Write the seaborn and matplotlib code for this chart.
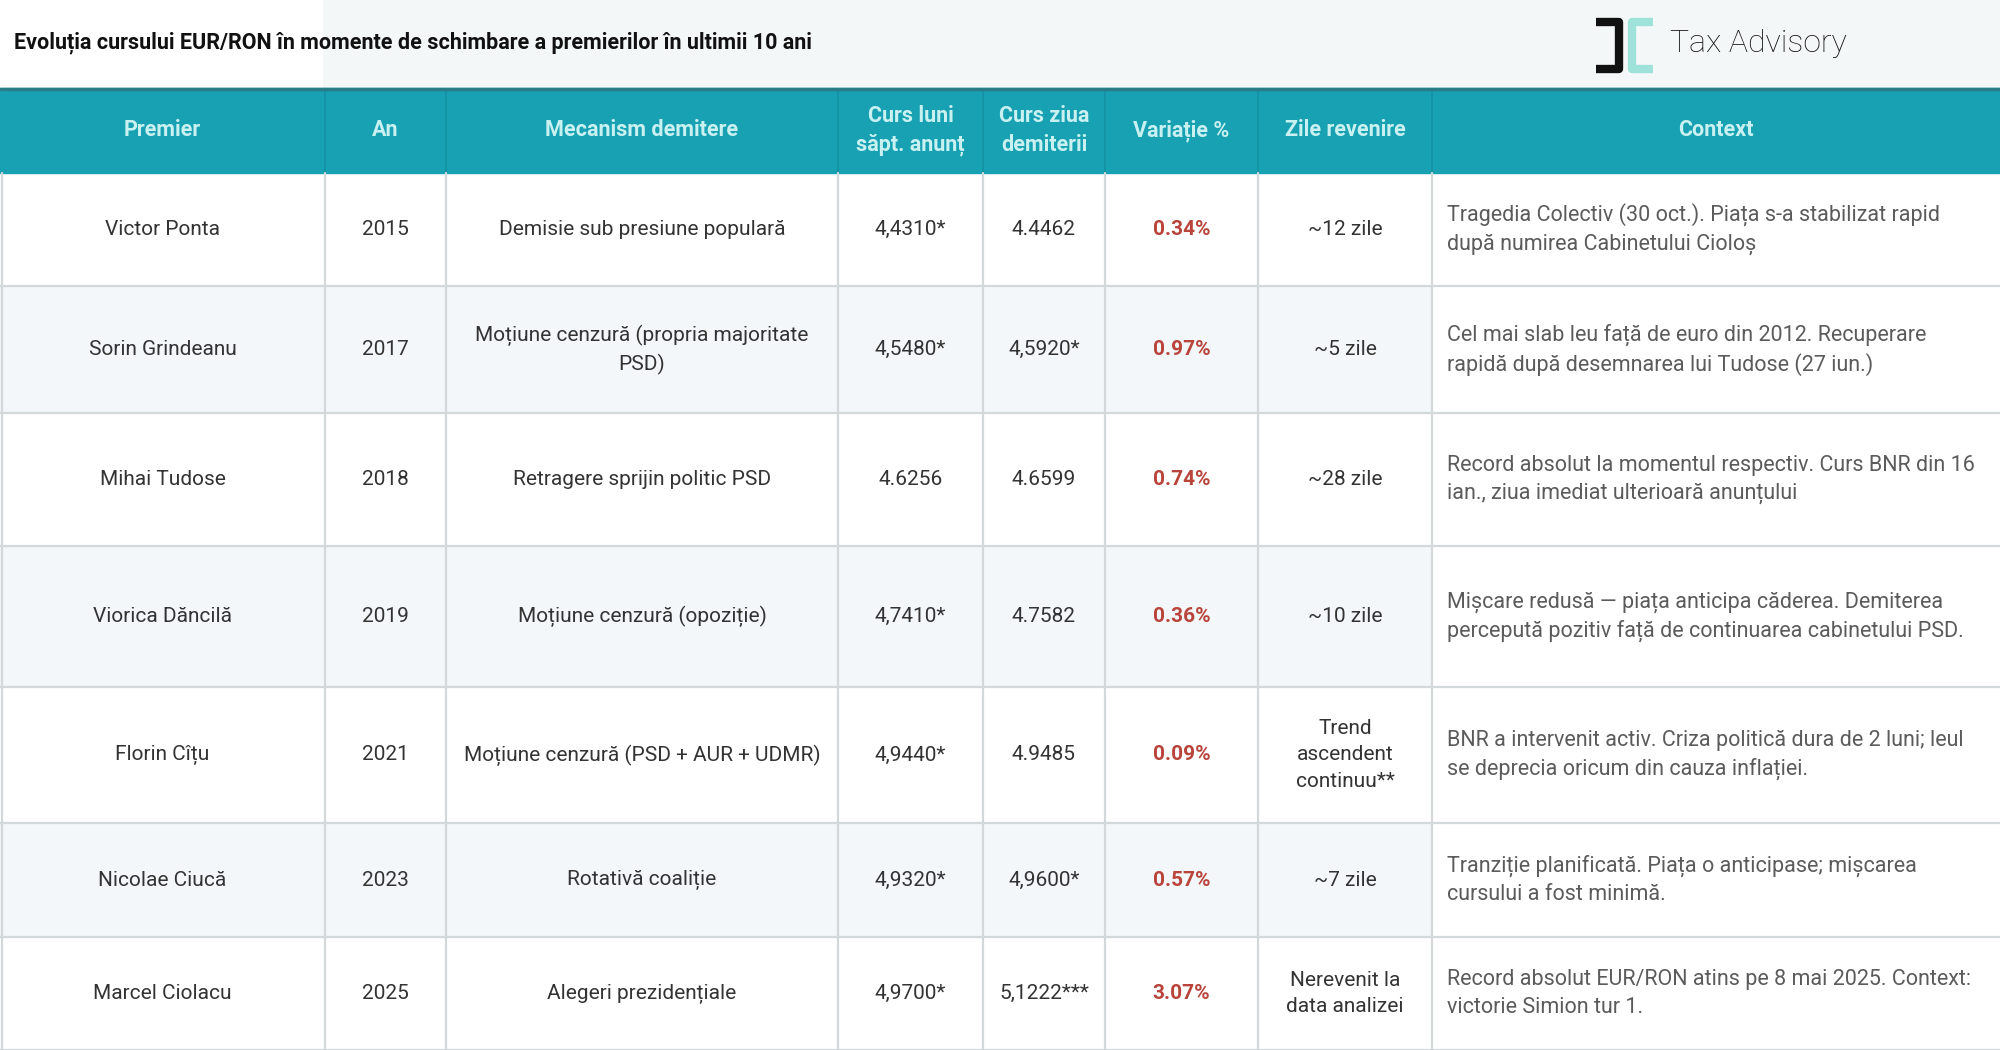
import matplotlib
matplotlib.use("Agg")
import matplotlib.pyplot as plt
from matplotlib.patches import Rectangle
import seaborn as sns

# --- date ---
titlu = "Evoluția cursului EUR/RON în momente de schimbare a premierilor în ultimii 10 ani"
coloane = ["Premier", "An", "Mecanism demitere", "Curs luni\nsăpt. anunț",
           "Curs ziua\ndemiterii", "Variație %", "Zile revenire", "Context"]
premieri = ["Victor Ponta", "Sorin Grindeanu", "Mihai Tudose", "Viorica Dăncilă",
            "Florin Cîțu", "Nicolae Ciucă", "Marcel Ciolacu"]
ani = [2015, 2017, 2018, 2019, 2021, 2023, 2025]
mecanisme = ["Demisie sub presiune populară",
             "Moțiune cenzură (propria majoritate\nPSD)",
             "Retragere sprijin politic PSD",
             "Moțiune cenzură (opoziție)",
             "Moțiune cenzură (PSD + AUR + UDMR)",
             "Rotativă coaliție",
             "Alegeri prezidențiale"]
curs_anunt = ["4,4310*", "4,5480*", "4.6256", "4,7410*", "4,9440*", "4,9320*", "4,9700*"]
curs_demitere = ["4.4462", "4,5920*", "4.6599", "4.7582", "4.9485", "4,9600*", "5,1222***"]
variatii = [0.34, 0.97, 0.74, 0.36, 0.09, 0.57, 3.07]
zile_revenire = ["~12 zile", "~5 zile", "~28 zile", "~10 zile",
                 "Trend\nascendent\ncontinuu**", "~7 zile", "Nerevenit la\ndata analizei"]
context = ["Tragedia Colectiv (30 oct.). Piața s-a stabilizat rapid\ndupă numirea Cabinetului Cioloș",
           "Cel mai slab leu față de euro din 2012. Recuperare\nrapidă după desemnarea lui Tudose (27 iun.)",
           "Record absolut la momentul respectiv. Curs BNR din 16\nian., ziua imediat ulterioară anunțului",
           "Mișcare redusă — piața anticipa căderea. Demiterea\npercepută pozitiv față de continuarea cabinetului PSD.",
           "BNR a intervenit activ. Criza politică dura de 2 luni; leul\nse deprecia oricum din cauza inflației.",
           "Tranziție planificată. Piața o anticipase; mișcarea\ncursului a fost minimă.",
           "Record absolut EUR/RON atins pe 8 mai 2025. Context:\nvictorie Simion tur 1."]

# --- layout (pixeli) ---
W, H = 2000, 1050
col_edges = [0, 325, 446, 838, 983, 1105, 1258, 1432, 2000]
head_top, head_bot = 88, 173
row_edges = [173, 286, 413, 546, 687, 823, 937, 1050]

teal = "#17a1b2"
grid = "#d3d8db"
fs = 15

sns.set_theme(style="white")
plt.rcParams["font.family"] = ["Roboto", "DejaVu Sans"]

fig = plt.figure(figsize=(20, 10.5), dpi=100, facecolor="#f3f7f8")
ax = fig.add_axes([0, 0, 1, 1])
ax.set_xlim(0, W)
ax.set_ylim(H, 0)
ax.axis("off")

# banda titlu
ax.add_patch(Rectangle((0, 0), 322, head_top, color="white", zorder=0))
ax.text(14, 43, titlu, fontsize=15.5, fontweight="bold", color="#111111",
        ha="left", va="center")

# logo
ax.plot([1596, 1619, 1619, 1596], [21.5, 21.5, 68.5, 68.5], color="#111111",
        lw=6, solid_joinstyle="round", solid_capstyle="butt")
ax.plot([1653, 1632, 1632, 1653], [21.5, 21.5, 68.5, 68.5], color="#9fe2d9",
        lw=6, solid_joinstyle="round", solid_capstyle="butt")
ax.text(1670, 44, "Tax Advisory", fontsize=23, fontweight="light",
        color="#151515", ha="left", va="center")

# antet
ax.add_patch(Rectangle((0, head_top), W, head_bot - head_top, color=teal, zorder=1))
ax.plot([0, W], [head_top + 1, head_top + 1], color="#2a7c88", lw=2.5, zorder=3)
for x in col_edges[1:-1]:
    ax.plot([x, x], [head_top + 2, head_bot], color="#1391a1", lw=1.2, zorder=2)
for i, name in enumerate(coloane):
    xc = (col_edges[i] + col_edges[i + 1]) / 2
    ax.text(xc, (head_top + head_bot) / 2, name, fontsize=15.5, fontweight="bold",
            color="#c9f1f1", ha="center", va="center", linespacing=1.4, zorder=4)

# corp tabel
for r in range(len(premieri)):
    y0, y1 = row_edges[r], row_edges[r + 1]
    yc = (y0 + y1) / 2
    fill = "white" if r % 2 == 0 else "#f3f7f9"
    ax.add_patch(Rectangle((0, y0), col_edges[-2], y1 - y0, color=fill, zorder=0.5))
    ax.add_patch(Rectangle((col_edges[-2], y0), W - col_edges[-2], y1 - y0,
                           color="white", zorder=0.5))
    cells = [premieri[r], str(ani[r]), mecanisme[r], curs_anunt[r],
             curs_demitere[r], f"{variatii[r]:.2f}%", zile_revenire[r]]
    for c, txt in enumerate(cells):
        xc = (col_edges[c] + col_edges[c + 1]) / 2
        if c == 5:
            ax.text(xc, yc, txt, fontsize=fs, fontweight="bold", color="#b8443b",
                    ha="center", va="center", zorder=4)
        else:
            ax.text(xc, yc, txt, fontsize=fs, color="#333333", ha="center",
                    va="center", linespacing=1.5, zorder=4)
    ax.text(col_edges[-2] + 15, yc, context[r], fontsize=15.5, color="#5b5b5b",
            ha="left", va="center", linespacing=1.4, zorder=4)

# linii grila
for y in row_edges[1:]:
    ax.plot([0, W], [y, y], color=grid, lw=1.6, zorder=3)
for x in col_edges[:-1]:
    ax.plot([max(x, 1.5), max(x, 1.5)], [head_bot, H], color=grid, lw=1.6, zorder=3)

fig.savefig("out.png", dpi=100, facecolor=fig.get_facecolor())
